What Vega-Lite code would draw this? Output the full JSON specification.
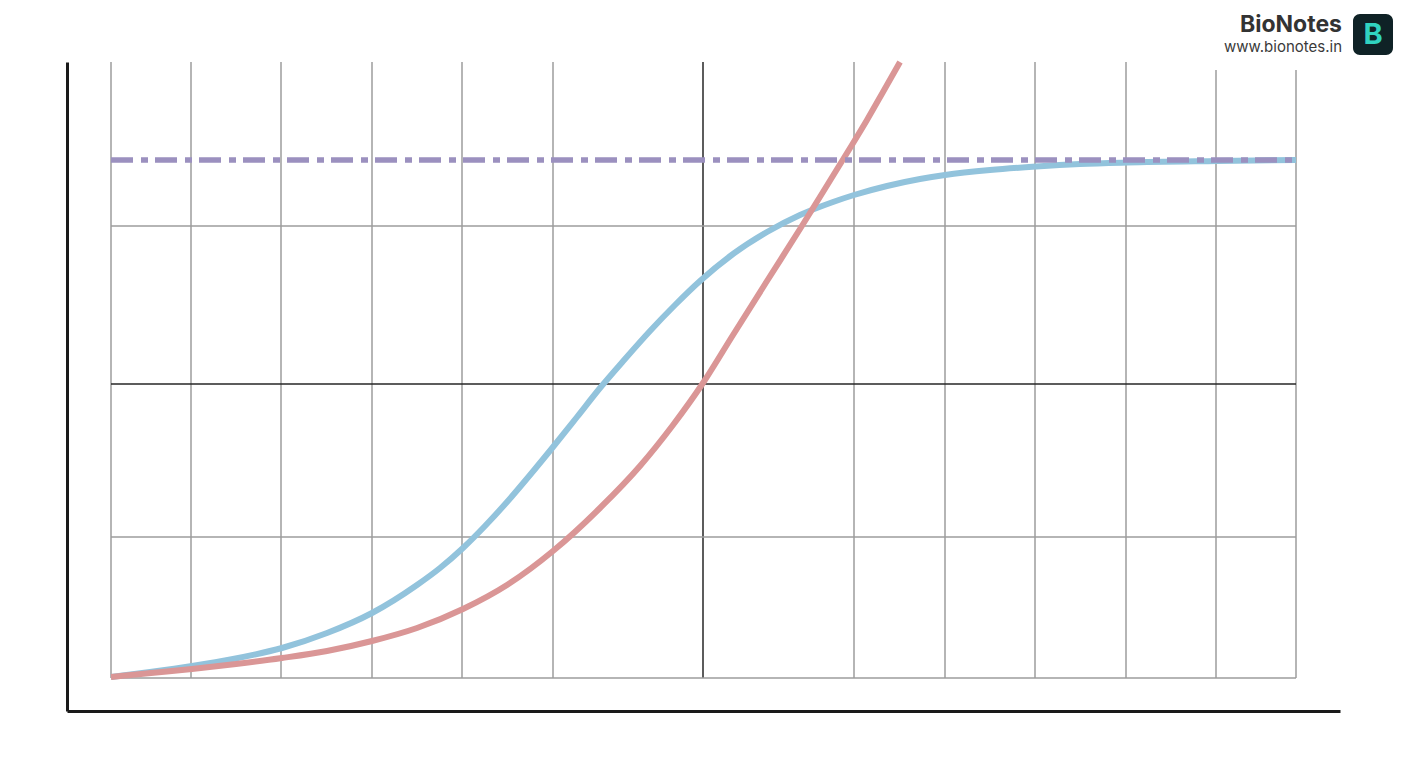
{
  "$schema": "https://vega.github.io/schema/vega-lite/v6.json",
  "width": 1273,
  "height": 649,
  "autosize": "none",
  "padding": {"left": 67, "top": 62, "right": 68, "bottom": 57},
  "background": "white",
  "config": {
    "view": {"stroke": null},
    "axis": {
      "domainColor": "#1a1a1a",
      "domainWidth": 3,
      "ticks": false,
      "labels": false,
      "grid": false,
      "title": null
    }
  },
  "datasets": {
    "vgrid": [
      {"x": 0, "bottom": 0, "top": 616, "kind": "grid"},
      {"x": 80, "bottom": 0, "top": 616, "kind": "grid"},
      {"x": 170, "bottom": 0, "top": 616, "kind": "grid"},
      {"x": 261, "bottom": 0, "top": 616, "kind": "grid"},
      {"x": 351, "bottom": 0, "top": 616, "kind": "grid"},
      {"x": 442, "bottom": 0, "top": 616, "kind": "grid"},
      {"x": 592, "bottom": 0, "top": 616, "kind": "centre"},
      {"x": 743, "bottom": 0, "top": 616, "kind": "grid"},
      {"x": 834, "bottom": 0, "top": 616, "kind": "grid"},
      {"x": 924, "bottom": 0, "top": 616, "kind": "grid"},
      {"x": 1015, "bottom": 0, "top": 616, "kind": "grid"},
      {"x": 1105, "bottom": 0, "top": 608, "kind": "grid"},
      {"x": 1185, "bottom": 0, "top": 608, "kind": "grid"}
    ],
    "hgrid": [
      {"y": 0, "left": 0, "right": 1185, "kind": "grid"},
      {"y": 141, "left": 0, "right": 1185, "kind": "grid"},
      {"y": 294, "left": 0, "right": 1185, "kind": "centre"},
      {"y": 452, "left": 0, "right": 1185, "kind": "grid"}
    ],
    "curves": [
      {"series": "logistic", "x": 0, "y": 1},
      {"series": "logistic", "x": 39, "y": 6},
      {"series": "logistic", "x": 81, "y": 12},
      {"series": "logistic", "x": 122, "y": 19},
      {"series": "logistic", "x": 171, "y": 30},
      {"series": "logistic", "x": 216, "y": 45},
      {"series": "logistic", "x": 261, "y": 65},
      {"series": "logistic", "x": 306, "y": 93},
      {"series": "logistic", "x": 329, "y": 110},
      {"series": "logistic", "x": 352, "y": 130},
      {"series": "logistic", "x": 374, "y": 152},
      {"series": "logistic", "x": 396, "y": 176},
      {"series": "logistic", "x": 419, "y": 203},
      {"series": "logistic", "x": 442, "y": 231},
      {"series": "logistic", "x": 466, "y": 261},
      {"series": "logistic", "x": 489, "y": 290},
      {"series": "logistic", "x": 514, "y": 319},
      {"series": "logistic", "x": 539, "y": 347},
      {"series": "logistic", "x": 564, "y": 373},
      {"series": "logistic", "x": 589, "y": 397},
      {"series": "logistic", "x": 622, "y": 424},
      {"series": "logistic", "x": 656, "y": 446},
      {"series": "logistic", "x": 689, "y": 463},
      {"series": "logistic", "x": 722, "y": 476},
      {"series": "logistic", "x": 743, "y": 483},
      {"series": "logistic", "x": 776, "y": 492},
      {"series": "logistic", "x": 809, "y": 499},
      {"series": "logistic", "x": 834, "y": 503},
      {"series": "logistic", "x": 879, "y": 508},
      {"series": "logistic", "x": 925, "y": 511.5},
      {"series": "logistic", "x": 969, "y": 514},
      {"series": "logistic", "x": 1016, "y": 515.5},
      {"series": "logistic", "x": 1106, "y": 517},
      {"series": "logistic", "x": 1185, "y": 518},
      {"series": "exponential", "x": 0, "y": 1},
      {"series": "exponential", "x": 40, "y": 5},
      {"series": "exponential", "x": 81, "y": 9},
      {"series": "exponential", "x": 125, "y": 14},
      {"series": "exponential", "x": 171, "y": 20},
      {"series": "exponential", "x": 216, "y": 27},
      {"series": "exponential", "x": 261, "y": 37},
      {"series": "exponential", "x": 306, "y": 50},
      {"series": "exponential", "x": 352, "y": 69},
      {"series": "exponential", "x": 396, "y": 93},
      {"series": "exponential", "x": 442, "y": 127},
      {"series": "exponential", "x": 489, "y": 170},
      {"series": "exponential", "x": 529, "y": 212},
      {"series": "exponential", "x": 562, "y": 253},
      {"series": "exponential", "x": 592, "y": 295},
      {"series": "exponential", "x": 622, "y": 343},
      {"series": "exponential", "x": 656, "y": 397},
      {"series": "exponential", "x": 689, "y": 449},
      {"series": "exponential", "x": 712, "y": 486},
      {"series": "exponential", "x": 736, "y": 525},
      {"series": "exponential", "x": 756, "y": 558},
      {"series": "exponential", "x": 772, "y": 586},
      {"series": "exponential", "x": 789, "y": 616}
    ],
    "capacity": [{"y": 518, "from": 0, "to": 1185}],
    "brand": [
      {"x": 1231, "y": 646, "label": "BioNotes", "part": "name"},
      {"x": 1231, "y": 626, "label": "www.bionotes.in", "part": "site"}
    ],
    "logo": [{"x": 1242, "x2": 1282, "y": 623, "y2": 664, "cx": 1262, "cy": 643, "label": "B"}]
  },
  "layer": [
    {
      "data": {"name": "vgrid"},
      "mark": {"type": "rule", "strokeWidth": 1.5},
      "encoding": {
        "x": {"field": "x", "type": "quantitative", "scale": {"domain": [-44, 1229], "nice": false, "zero": false}, "axis": {"orient": "bottom"}},
        "y": {"field": "bottom", "type": "quantitative", "scale": {"domain": [-33, 616], "nice": false, "zero": false}, "axis": {"orient": "left"}},
        "y2": {"field": "top"},
        "color": {"field": "kind", "type": "nominal", "scale": {"domain": ["grid", "centre"], "range": ["#9c9c9c", "#262626"]}, "legend": null}
      }
    },
    {
      "data": {"name": "hgrid"},
      "mark": {"type": "rule", "strokeWidth": 1.5},
      "encoding": {
        "x": {"field": "left", "type": "quantitative"},
        "x2": {"field": "right"},
        "y": {"field": "y", "type": "quantitative"},
        "color": {"field": "kind", "type": "nominal", "legend": null}
      }
    },
    {
      "data": {"name": "curves"},
      "transform": [{"filter": "datum.series === 'logistic'"}],
      "mark": {"type": "line", "interpolate": "monotone", "strokeWidth": 6, "color": "#92c3dc"},
      "encoding": {
        "x": {"field": "x", "type": "quantitative"},
        "y": {"field": "y", "type": "quantitative"}
      }
    },
    {
      "data": {"name": "curves"},
      "transform": [{"filter": "datum.series === 'exponential'"}],
      "mark": {"type": "line", "interpolate": "monotone", "strokeWidth": 6, "color": "#da9696"},
      "encoding": {
        "x": {"field": "x", "type": "quantitative"},
        "y": {"field": "y", "type": "quantitative"}
      }
    },
    {
      "data": {"name": "capacity"},
      "mark": {"type": "rule", "strokeWidth": 5.5, "color": "#9b90bf", "strokeDash": [22, 8, 7, 7]},
      "encoding": {
        "x": {"field": "from", "type": "quantitative"},
        "x2": {"field": "to"},
        "y": {"field": "y", "type": "quantitative"}
      }
    },
    {
      "data": {"name": "brand"},
      "transform": [{"filter": "datum.part === 'name'"}],
      "mark": {"type": "text", "font": "Inter", "fontSize": 23, "fontWeight": "bold", "color": "#333333", "align": "right", "baseline": "alphabetic"},
      "encoding": {
        "x": {"field": "x", "type": "quantitative"},
        "y": {"field": "y", "type": "quantitative"},
        "text": {"field": "label"}
      }
    },
    {
      "data": {"name": "brand"},
      "transform": [{"filter": "datum.part === 'site'"}],
      "mark": {"type": "text", "font": "Inter", "fontSize": 15, "color": "#3a3a3a", "align": "right", "baseline": "alphabetic"},
      "encoding": {
        "x": {"field": "x", "type": "quantitative"},
        "y": {"field": "y", "type": "quantitative"},
        "text": {"field": "label"}
      }
    },
    {
      "data": {"name": "logo"},
      "mark": {"type": "rect", "cornerRadius": 7, "color": "#0f2226"},
      "encoding": {
        "x": {"field": "x", "type": "quantitative"},
        "x2": {"field": "x2"},
        "y": {"field": "y", "type": "quantitative"},
        "y2": {"field": "y2"}
      }
    },
    {
      "data": {"name": "logo"},
      "mark": {"type": "text", "font": "Inter", "fontSize": 29, "fontWeight": "bold", "color": "#30d3c0", "baseline": "middle", "align": "center"},
      "encoding": {
        "x": {"field": "cx", "type": "quantitative"},
        "y": {"field": "cy", "type": "quantitative"},
        "text": {"field": "label"}
      }
    }
  ]
}
